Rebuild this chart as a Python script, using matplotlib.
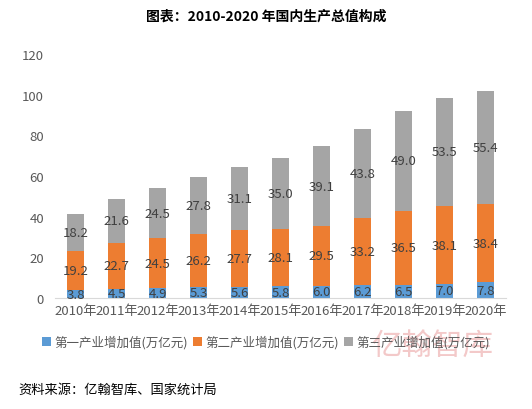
import numpy as np
import matplotlib
matplotlib.use("Agg")
import matplotlib.pyplot as plt

plt.rcParams['font.family'] = ['Noto Sans CJK SC', 'DejaVu Sans']

years = ['2010年', '2011年', '2012年', '2013年', '2014年', '2015年',
         '2016年', '2017年', '2018年', '2019年', '2020年']
primary = [3.8, 4.5, 4.9, 5.3, 5.6, 5.8, 6.0, 6.2, 6.5, 7.0, 7.8]
secondary = [19.2, 22.7, 24.5, 26.2, 27.7, 28.1, 29.5, 33.2, 36.5, 38.1, 38.4]
tertiary = [18.2, 21.6, 24.5, 27.8, 31.1, 35.0, 39.1, 43.8, 49.0, 53.5, 55.4]
series_names = ['第一产业增加值(万亿元)', '第二产业增加值(万亿元)', '第三产业增加值(万亿元)']
colors = ['#5B9BD5', '#ED7D31', '#A5A5A5']

fig = plt.figure(figsize=(5.32, 4.10), dpi=100)
ax = fig.add_axes([55 / 532, 111 / 410, 451 / 532, 244 / 410])

x = np.arange(len(years))
bottom = np.zeros(len(years))
for vals, name, col in zip([primary, secondary, tertiary], series_names, colors):
    vals = np.array(vals)
    bars = ax.bar(x, vals, width=0.41, bottom=bottom, color=col, label=name)
    ax.bar_label(bars, labels=[f'{v:.1f}' for v in vals], label_type='center',
                 fontsize=9.5, color='#404040')
    bottom += vals

ax.set_xlim(-0.5, len(years) - 0.5)
ax.set_ylim(0, 120)
ax.set_yticks(range(0, 121, 20))
ax.set_xticks(x)
ax.set_xticklabels(years)
ax.tick_params(axis='both', length=0, labelsize=9.5, colors='#595959')
ax.tick_params(axis='y', pad=8)
ax.tick_params(axis='x', pad=4)
for side in ['top', 'right', 'left']:
    ax.spines[side].set_visible(False)
ax.spines['bottom'].set_color('#D9D9D9')

# watermark (behind the legend)
fig.text(0.812, 1 - 346 / 410, '亿翰智库', fontsize=22, color='#F3C9C9',
         ha='center', va='center', zorder=0)

leg = fig.legend(loc='center', bbox_to_anchor=(0.5, 1 - 343 / 410), ncol=3, frameon=False,
                 fontsize=9, handlelength=0.7, handleheight=0.7, handletextpad=0.3,
                 columnspacing=0.4, labelcolor='#595959')
leg.set_zorder(5)

fig.text(0.5, 1 - 17 / 410, '图表：2010-2020 年国内生产总值构成', ha='center', va='center',
         fontsize=10, fontweight='bold', color='black')
fig.text(18 / 532, 1 - 390 / 410, '资料来源：亿翰智库、国家统计局', ha='left', va='center',
         fontsize=9.5, color='black')

fig.savefig('out.png', dpi=100)
